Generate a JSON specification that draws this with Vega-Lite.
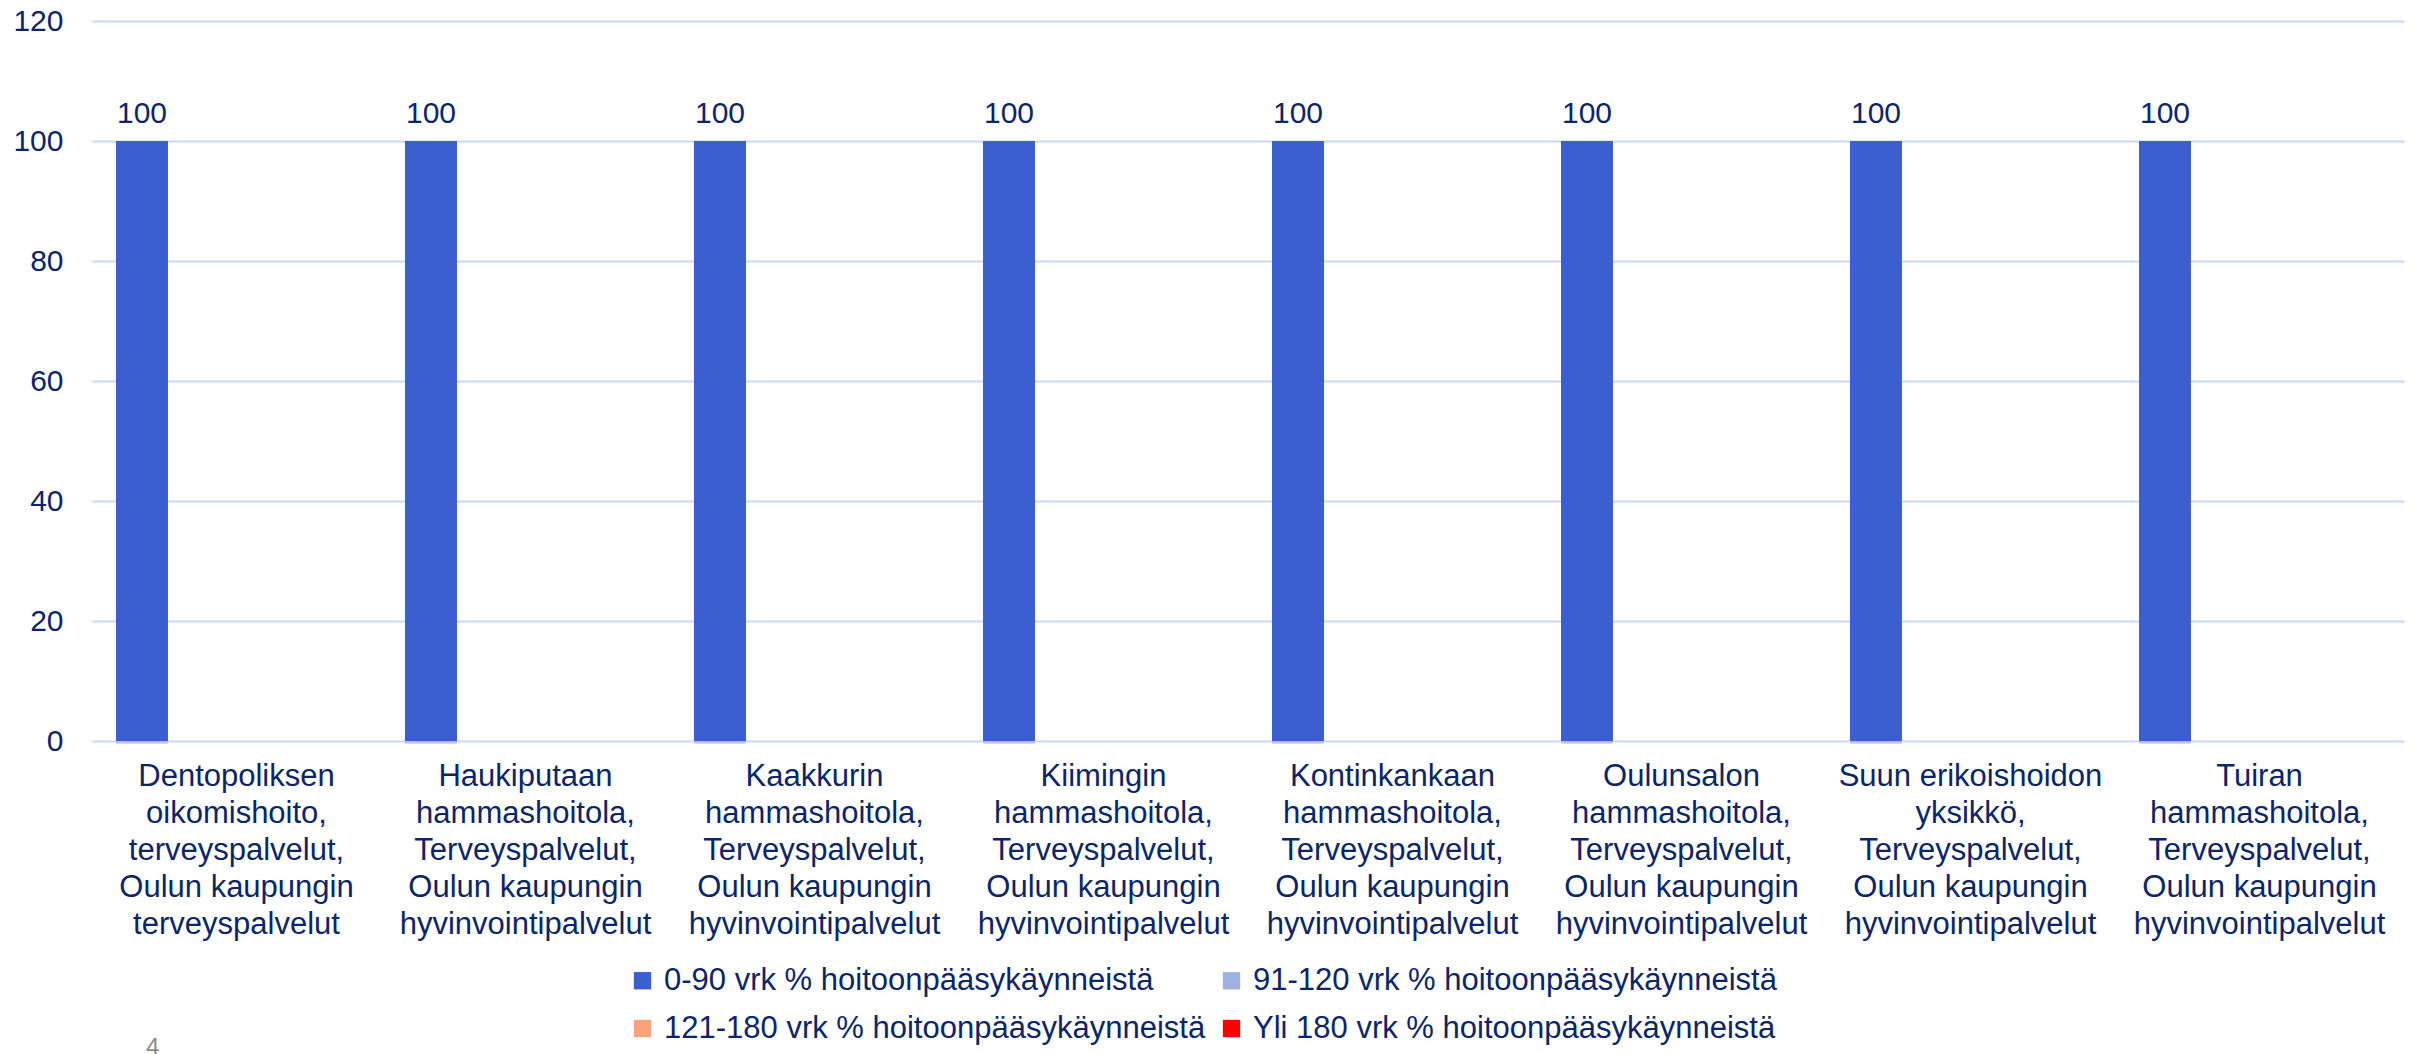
{
  "$schema": "https://vega.github.io/schema/vega-lite/v6.json",
  "width": 2312,
  "height": 720,
  "autosize": {"type": "none"},
  "padding": {"left": 92, "top": 21, "right": 14, "bottom": 313},
  "background": "white",
  "config": {"font": "Liberation Sans", "view": {"stroke": null}},
  "title": {"text": "4", "orient": "bottom", "anchor": "start", "color": "#8a8a8a", "fontSize": 24, "fontWeight": "normal", "dx": 133, "offset": 0, "dy": -8},
  "data": {"values": [
    {"unit": "Dentopoliksen\noikomishoito,\nterveyspalvelut,\nOulun kaupungin\nterveyspalvelut", "series": "0-90 vrk % hoitoonpääsykäynneistä", "value": 100},
    {"unit": "Haukiputaan\nhammashoitola,\nTerveyspalvelut,\nOulun kaupungin\nhyvinvointipalvelut", "series": "0-90 vrk % hoitoonpääsykäynneistä", "value": 100},
    {"unit": "Kaakkurin\nhammashoitola,\nTerveyspalvelut,\nOulun kaupungin\nhyvinvointipalvelut", "series": "0-90 vrk % hoitoonpääsykäynneistä", "value": 100},
    {"unit": "Kiimingin\nhammashoitola,\nTerveyspalvelut,\nOulun kaupungin\nhyvinvointipalvelut", "series": "0-90 vrk % hoitoonpääsykäynneistä", "value": 100},
    {"unit": "Kontinkankaan\nhammashoitola,\nTerveyspalvelut,\nOulun kaupungin\nhyvinvointipalvelut", "series": "0-90 vrk % hoitoonpääsykäynneistä", "value": 100},
    {"unit": "Oulunsalon\nhammashoitola,\nTerveyspalvelut,\nOulun kaupungin\nhyvinvointipalvelut", "series": "0-90 vrk % hoitoonpääsykäynneistä", "value": 100},
    {"unit": "Suun erikoishoidon\nyksikkö,\nTerveyspalvelut,\nOulun kaupungin\nhyvinvointipalvelut", "series": "0-90 vrk % hoitoonpääsykäynneistä", "value": 100},
    {"unit": "Tuiran\nhammashoitola,\nTerveyspalvelut,\nOulun kaupungin\nhyvinvointipalvelut", "series": "0-90 vrk % hoitoonpääsykäynneistä", "value": 100}
  ]},
  "encoding": {
    "x": {
      "field": "unit", "type": "nominal", "sort": null,
      "scale": {"paddingInner": 0, "paddingOuter": 0},
      "axis": {
        "title": null, "domain": false, "ticks": false, "labelAngle": 0,
        "labelExpr": "split(datum.label, '\\n')",
        "labelFontSize": 31, "labelLineHeight": 37, "labelColor": "#0B2569",
        "labelPadding": 20, "labelLimit": 500, "labelBaseline": "top"
      }
    },
    "xOffset": {
      "field": "series", "type": "nominal",
      "scale": {
        "domain": ["0-90 vrk % hoitoonpääsykäynneistä", "91-120 vrk % hoitoonpääsykäynneistä", "121-180 vrk % hoitoonpääsykäynneistä", "Yli 180 vrk % hoitoonpääsykäynneistä"],
        "paddingInner": 0.175, "paddingOuter": 0.381
      }
    },
    "y": {
      "field": "value", "type": "quantitative",
      "scale": {"domain": [0, 120]},
      "axis": {
        "title": null, "values": [0, 20, 40, 60, 80, 100, 120],
        "domain": false, "ticks": false,
        "grid": true, "gridColor": "#C9D8F5", "gridWidth": 2,
        "labelFontSize": 30, "labelColor": "#0B2569", "labelPadding": 29
      }
    }
  },
  "layer": [
    {
      "mark": {"type": "bar", "color": "#555555", "opacity": 0.22, "xOffset": 4, "yOffset": 3},
      "encoding": {}
    },
    {
      "mark": {"type": "bar", "color": "#3B5FD0"},
      "encoding": {
        "color": {
          "field": "series", "type": "nominal",
          "scale": {
            "domain": ["0-90 vrk % hoitoonpääsykäynneistä", "91-120 vrk % hoitoonpääsykäynneistä", "121-180 vrk % hoitoonpääsykäynneistä", "Yli 180 vrk % hoitoonpääsykäynneistä"],
            "range": ["#3B5FD0", "#9FB0E3", "#FBA17C", "#FF0000"]
          },
          "legend": {
            "orient": "none", "legendX": 535, "legendY": 944,
            "direction": "horizontal", "columns": 2, "title": null,
            "symbolType": "square", "symbolSize": 300, "symbolStrokeWidth": 0,
            "labelFontSize": 31, "labelColor": "#0B2569", "labelLimit": 800,
            "columnPadding": 10, "rowPadding": 16, "labelOffset": 6, "padding": 0
          }
        }
      }
    },
    {
      "mark": {"type": "text", "baseline": "alphabetic", "dy": -18, "fontSize": 30, "color": "#0B2569"},
      "encoding": {"text": {"field": "value", "type": "quantitative"}}
    }
  ]
}
